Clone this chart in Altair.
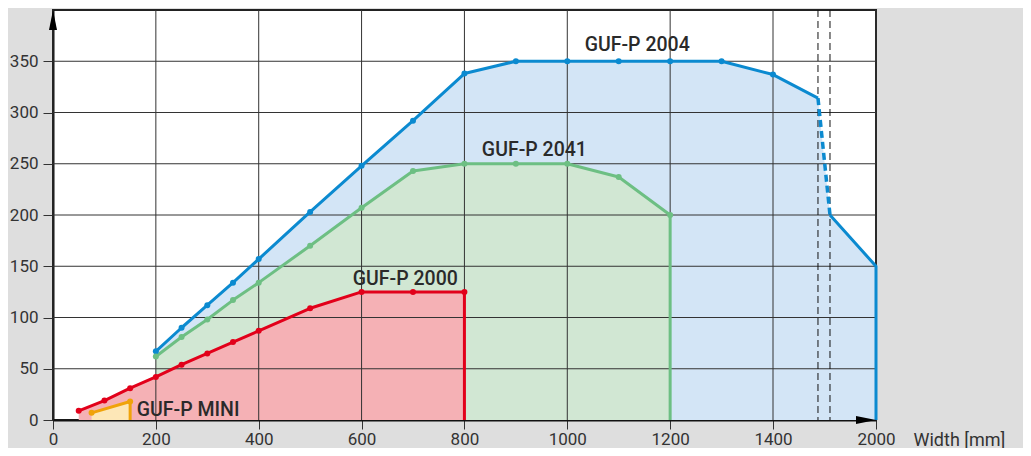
import altair as alt
import pandas as pd

# ---- data ----
series_names = ["GUF-P 2004", "GUF-P 2041", "GUF-P 2000", "GUF-P MINI"]
line_colors = ["#0b8ad0", "#6dbf83", "#e2001a", "#f0a30a"]
fill_colors = ["#d3e5f6", "#d1e7d3", "#f5b1b5", "#fde7b7"]

blue_x = [200, 250, 300, 350, 400, 500, 600, 700, 800, 900, 1000, 1100, 1200, 1300, 1400]
blue_y = [67, 90, 112, 134, 157, 203, 248, 292, 338, 350, 350, 350, 350, 350, 337]
break_x = [1662, 1732]
break_y = [314, 200]
blue_end_x = [2000]
blue_end_y = [150]

green_x = [200, 250, 300, 350, 400, 500, 600, 700, 800, 900, 1000, 1100, 1200]
green_y = [62, 81, 98, 117, 134, 170, 207, 243, 250, 250, 250, 237, 200]

red_x = [50, 100, 150, 200, 250, 300, 350, 400, 500, 600, 700, 800]
red_y = [9, 19, 31, 42, 54, 65, 76, 87, 109, 125, 125, 125]

mini_x = [75, 150]
mini_y = [7, 18]

x_ticks = [0, 200, 400, 600, 800, 1000, 1200, 1400, 2000]
y_ticks = [0, 50, 100, 150, 200, 250, 300, 350]

label_text = ["GUF-P 2004", "GUF-P 2041", "GUF-P 2000", "GUF-P MINI"]
label_x = [1136, 936, 685, 163]
label_y = [366, 263, 138, 10]
label_align = ["center", "center", "center", "left"]

# ---- tables ----
def pts(name, xs, ys):
    return [{"series": name, "x": a, "y": b} for a, b in zip(xs, ys)]

points_df = pd.DataFrame(
    pts("GUF-P 2004", blue_x, blue_y)
    + pts("GUF-P 2041", green_x, green_y)
    + pts("GUF-P 2000", red_x, red_y)
    + pts("GUF-P MINI", mini_x, mini_y)
)

area_rows = []
for name, xs, ys in [
    ("GUF-P 2004", blue_x + break_x + blue_end_x, blue_y + break_y + blue_end_y),
    ("GUF-P 2041", green_x, green_y),
    ("GUF-P 2000", red_x, red_y),
    ("GUF-P MINI", mini_x, mini_y),
]:
    area_rows += pts(name, xs, ys)
area_df = pd.DataFrame(area_rows)

line_rows = []
def add_line(name, seg, xs, ys):
    for i, (a, b) in enumerate(zip(xs, ys)):
        line_rows.append({"series": name, "seg": name + seg, "x": a, "y": b, "idx": i})

add_line("GUF-P 2004", "a", blue_x + break_x[:1], blue_y + break_y[:1])
add_line("GUF-P 2004", "c", break_x[1:] + blue_end_x + blue_end_x, break_y[1:] + blue_end_y + [0])
add_line("GUF-P 2041", "a", green_x + green_x[-1:], green_y + [0])
add_line("GUF-P 2000", "a", red_x + red_x[-1:], red_y + [0])
add_line("GUF-P MINI", "a", mini_x + mini_x[-1:], mini_y + [0])
line_df = pd.DataFrame(line_rows)

dash_df = pd.DataFrame({"x": break_x, "y": break_y})
vgrid_df = pd.DataFrame({"x": x_ticks})
hgrid_df = pd.DataFrame({"y": y_ticks[1:]})
breaklines_df = pd.DataFrame({"x": break_x})
labels_df = pd.DataFrame({"t": label_text, "x": label_x, "y": label_y, "align": label_align})

FONT = "Roboto"
xscale = alt.Scale(domain=[0, 1400, 2000], range=[0, 720, 823])
yscale = alt.Scale(domain=[0, 400], nice=False, zero=True)
line_scale = alt.Scale(domain=series_names, range=line_colors)

X = alt.X("x:Q", scale=xscale, axis=alt.Axis(
    values=x_ticks, format="d", grid=False, tickSize=9, tickColor="#333", tickWidth=1,
    domainColor="#111", domainWidth=2, labelFont=FONT, labelFontSize=17, labelColor="#333",
    labelPadding=2, labelFlush=False, title="Width [mm]", titleFont=FONT, titleFontSize=18,
    titleFontWeight="normal", titleColor="#333", titleAlign="left", titleBaseline="middle",
    titleX=860, titleY=20, titleAngle=0))
Y = alt.Y("y:Q", scale=yscale, axis=alt.Axis(
    values=y_ticks, format="d", grid=False, tickSize=10, tickColor="#333", tickWidth=1,
    domainColor="#111", domainWidth=2, labelFont=FONT, labelFontSize=17, labelColor="#333",
    labelPadding=5, title=None))

areas_layers = [
    alt.Chart(area_df).transform_filter(alt.datum.series == n).mark_area(opacity=1, color=c).encode(x=X, y=Y)
    for n, c in zip(series_names, fill_colors)
]

vgrid = alt.Chart(vgrid_df).mark_rule(color="#333", strokeWidth=1).encode(
    x=alt.X("x:Q", scale=xscale), y=alt.value(0), y2=alt.value(410))
hgrid = alt.Chart(hgrid_df).mark_rule(color="#333", strokeWidth=1).encode(
    y=alt.Y("y:Q", scale=yscale), x=alt.value(0), x2=alt.value(823))
breaklines = alt.Chart(breaklines_df).mark_rule(color="#111", strokeWidth=1, strokeDash=[7, 4]).encode(
    x=alt.X("x:Q", scale=xscale), y=alt.value(0), y2=alt.value(410))

lines = alt.Chart(line_df).mark_line(strokeWidth=3, strokeJoin="round").encode(
    x=alt.X("x:Q", scale=xscale), y=alt.Y("y:Q", scale=yscale),
    color=alt.Color("series:N", scale=line_scale, legend=None),
    detail="seg:N", order="idx:Q")
dashed = alt.Chart(dash_df).mark_line(strokeWidth=3.5, strokeDash=[7, 4], color=line_colors[0]).encode(
    x=alt.X("x:Q", scale=xscale), y=alt.Y("y:Q", scale=yscale))
dots = alt.Chart(points_df).mark_circle(size=36, opacity=1).encode(
    x=alt.X("x:Q", scale=xscale), y=alt.Y("y:Q", scale=yscale),
    color=alt.Color("series:N", scale=line_scale, legend=None))

texts = [
    alt.Chart(labels_df).transform_filter(alt.datum.align == a).mark_text(
        font=FONT, fontSize=19.5, fontWeight=500, color="#2a2a2a", align=a, baseline="middle").encode(
        x=alt.X("x:Q", scale=xscale), y=alt.Y("y:Q", scale=yscale), text="t:N")
    for a in ["center", "left"]
]

arrow_up = alt.Chart(pd.DataFrame({"x": [x_ticks[0]], "y": [400]})).mark_point(
    shape="M -0.2 1 L 0.2 1 L 0 0 Z", size=1600, filled=True, color="#000", opacity=1).encode(
    x=alt.X("x:Q", scale=xscale), y=alt.Y("y:Q", scale=yscale))
arrow_right = alt.Chart(pd.DataFrame({"x": [x_ticks[-1]], "y": [0]})).mark_point(
    shape="M -1 -0.2 L -1 0.2 L 0 0 Z", size=1600, filled=True, color="#000", opacity=1).encode(
    x=alt.X("x:Q", scale=xscale), y=alt.Y("y:Q", scale=yscale))

base_axes = alt.Chart(pd.DataFrame({"x": [0], "y": [0]})).mark_point(opacity=0).encode(x=X, y=Y)

chart = alt.layer(
    base_axes, *areas_layers, vgrid, hgrid, breaklines, lines, dashed, dots, *texts, arrow_up, arrow_right
).properties(
    width=823, height=410,
    background="#dedede",
    padding={"left": 45, "top": 2, "right": 147, "bottom": 28},
    autosize=alt.AutoSizeParams(type="none"),
).configure_view(fill="white", stroke="#222", strokeWidth=2)

chart.save("out.html", embed_options={"renderer": "svg", "actions": False})
